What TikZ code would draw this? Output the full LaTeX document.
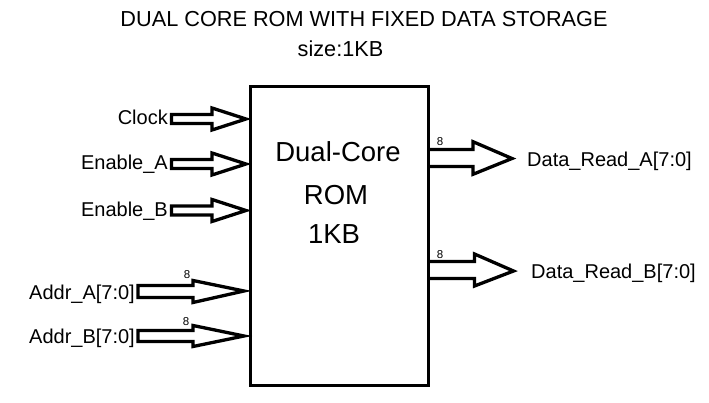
\documentclass[tikz,border=0pt]{standalone}
\usepackage{fontspec}
\setmainfont{Liberation Sans}
\usetikzlibrary{calc}
\tikzset{
  lbl/.style={inner sep=0pt, font=\fontsize{20}{23}\selectfont},
  buswidth/.style={inner sep=0pt, font=\fontsize{11.5}{12}\selectfont},
  barrow/.style={line width=3.3pt, line join=miter, miter limit=10},
  rombox/.style={draw, line width=3.7pt, minimum width=178pt, minimum height=299pt, inner sep=0pt},
  romtext/.style={inner sep=0pt, anchor=base, font=\fontsize{27.5}{30}\selectfont},
  titletext/.style={inner sep=0pt, anchor=base, font=\fontsize{21.7}{24}\selectfont},
}
% #1 start, #2 tip, #3 body half height, #4 head half height, #5 head length
\newcommand\blockarrow[5]{%
  \draw[barrow] let \p1=(#1), \p2=(#2) in
    (\x1,\y1+#3pt) -- (\x2-#5pt,\y1+#3pt) -- (\x2-#5pt,\y1+#4pt) -- (\x2,\y2)
    -- (\x2-#5pt,\y1-#4pt) -- (\x2-#5pt,\y1-#3pt) -- (\x1,\y1-#3pt) -- cycle;}
\newcommand\outarrow[5]{%
  \draw[barrow] let \p1=(#1), \p2=(#2) in
    (\x1,\y1+#3pt) -- (\x2-#5pt,\y1+#3pt) -- (\x2-#5pt,\y1+#4pt) -- (\x2,\y2)
    -- (\x2-#5pt,\y1-#4pt) -- (\x2-#5pt,\y1-#3pt) -- (\x1,\y1-#3pt);}
\begin{document}
\begin{tikzpicture}[x=1pt, y=-1pt]
\useasboundingbox (0,0) rectangle (709,403);
% title
\node[titletext] (title) at (364,27) {DUAL CORE ROM WITH FIXED DATA STORAGE};
\node[titletext] (size) at (340.5,57) {size:1KB};
% ROM box
\node[rombox] (rom) at (339.5,236) {};
\node[romtext] (l1) at (338,162) {Dual-Core};
\node[romtext] (l2) at (336,205) {ROM};
\node[romtext] (l3) at (334,244) {1KB};
% input labels
\node[lbl, anchor=base east] (clk) at (168,125) {Clock};
\node[lbl, anchor=base east] (ena) at (168,170) {Enable\_A};
\node[lbl, anchor=base east] (enb) at (168,217) {Enable\_B};
\node[lbl, anchor=base east] (aa) at (135,299) {Addr\_A[7:0]};
\node[lbl, anchor=base east] (ab) at (135,343) {Addr\_B[7:0]};
% output labels
\node[lbl, anchor=base west] (da) at (527,166.5) {Data\_Read\_A[7:0]};
\node[lbl, anchor=base west] (db) at (531,279) {Data\_Read\_B[7:0]};
% arrow ends (tips set back by the miter overshoot)
\coordinate (clkS) at (171.5,119);  \coordinate (clkT) at (246,119);
\coordinate (enaS) at (171.5,164);  \coordinate (enaT) at (246,164);
\coordinate (enbS) at (171.5,210.5);\coordinate (enbT) at (246,210.5);
\coordinate (aaS) at (138,291.5);   \coordinate (aaT) at (244,291);
\coordinate (abS) at (138,336);     \coordinate (abT) at (244,336);
\coordinate (daS) at (428,158);     \coordinate (daT) at (512,158.5);
\coordinate (dbS) at (428,270);     \coordinate (dbT) at (513.5,271);
% input arrows
\blockarrow{clkS}{clkT}{4.5}{11}{34}
\blockarrow{enaS}{enaT}{4.5}{11}{34}
\blockarrow{enbS}{enbT}{4.5}{11}{34}
\blockarrow{aaS}{aaT}{6}{11}{51}
\blockarrow{abS}{abT}{5.5}{10.5}{51}
% output arrows
\outarrow{daS}{daT}{8.5}{16.3}{39}
\outarrow{dbS}{dbT}{8.5}{16}{39}
% bus widths
\node[buswidth] (wa) at (187,275) {8};
\node[buswidth] (wb) at (186,321.5) {8};
\node[buswidth] (wda) at (440,142) {8};
\node[buswidth] (wdb) at (440,255) {8};
\end{tikzpicture}
\end{document}
